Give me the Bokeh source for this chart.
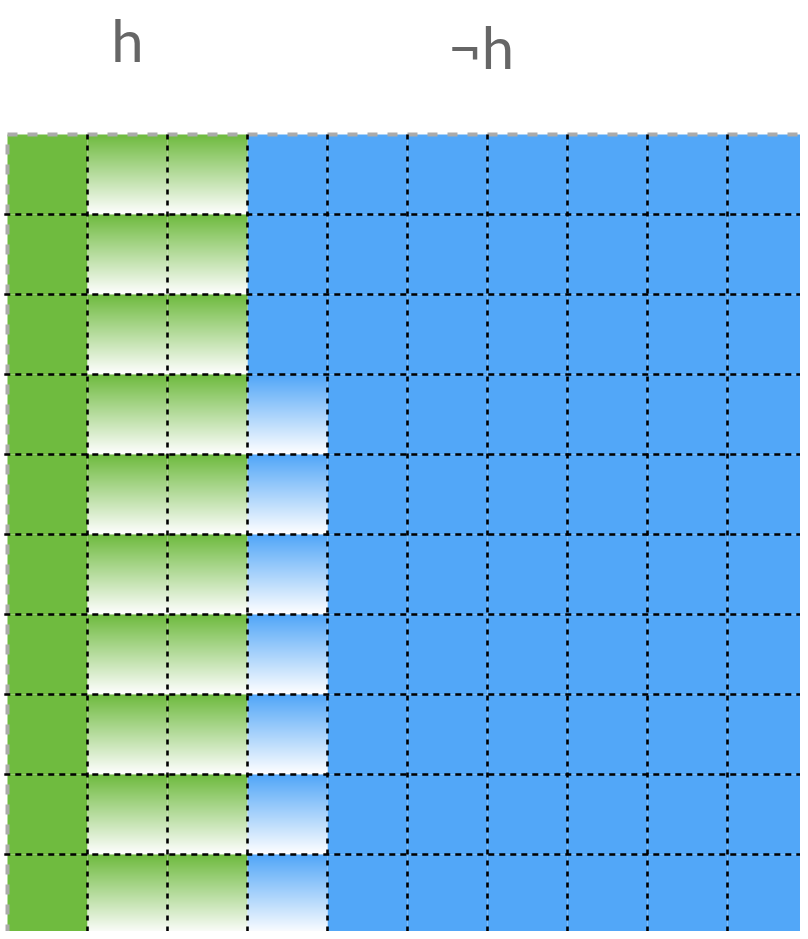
import numpy as np
from bokeh.plotting import figure
from bokeh.models import Range1d
from bokeh.core.properties import value
from bokeh.embed import file_html
from bokeh.resources import INLINE

# ---- data -------------------------------------------------------------
n_rows = 10
n_cols = 10
# one string per row (top to bottom): G = solid green, g = green fade,
# B = solid blue, b = blue fade
row_kinds = [
    "GggBBBBBBB",
    "GggBBBBBBB",
    "GggBBBBBBB",
    "GggbBBBBBB",
    "GggbBBBBBB",
    "GggbBBBBBB",
    "GggbBBBBBB",
    "GggbBBBBBB",
    "GggbBBBBBB",
    "GggbBBBBBB",
]
group_labels = ["h", "\u00ach"]
group_label_x = [1.5, 5.92]
group_label_y = [1.19, 1.10]

GREEN = "#6fbb3f"
BLUE = "#52a7f8"
kind_color = {"G": GREEN, "g": GREEN, "B": BLUE, "b": BLUE}

# ---- figure -----------------------------------------------------------
W, H = 800, 931
left_px, top_px, cell_px = 7, 134, 80
p = figure(width=W, height=H, output_backend="svg", toolbar_location=None,
           x_range=Range1d(-left_px / cell_px, (W - left_px) / cell_px),
           y_range=Range1d(-(H - top_px) / cell_px, top_px / cell_px),
           min_border=0)
p.axis.visible = False
p.grid.visible = False
p.outline_line_color = None
p.background_fill_color = "white"
p.border_fill_color = "white"

# solid cells
sl, sr, st, sb, sc = [], [], [], [], []
grad_cells = []
for r, kinds in enumerate(row_kinds):
    for c, k in enumerate(kinds):
        if k in "GB":
            sl.append(c); sr.append(c + 1); st.append(-r); sb.append(-r - 1)
            sc.append(kind_color[k])
        else:
            grad_cells.append((r, c, kind_color[k]))
p.quad(left=sl, right=sr, top=st, bottom=sb, fill_color=sc, line_color=None)


def hex_rgb(h):
    h = h.lstrip("#")
    return [int(h[i:i + 2], 16) for i in (0, 2, 4)]


N = 80
t = np.linspace(0.0, 1.0, N)  # 0 bottom (white) -> 1 top (color)
for r, c, col in grad_cells:
    rgb = hex_rgb(col)
    img = np.zeros((N, 1), dtype=np.uint32)
    view = img.view(dtype=np.uint8).reshape((N, 1, 4))
    for i in range(3):
        view[:, 0, i] = (255 + (rgb[i] - 255) * t).astype(np.uint8)
    view[:, 0, 3] = 255
    p.image_rgba(image=[img], x=c, y=-r - 1, dw=1, dh=1)

# outer grey dashed border
p.line(x=[0, n_cols, n_cols, 0, 0], y=[0, 0, -n_rows, -n_rows, 0],
       line_color="#aaaaaa", line_width=4, line_dash="10 10")

# inner black dashed grid lines
xs_v = [[c, c] for c in range(1, n_cols + 1)]
ys_v = [[0, -n_rows] for c in range(1, n_cols + 1)]
p.multi_line(xs=xs_v, ys=ys_v, line_color="black", line_width=2.6, line_dash="5 6")
xs_h = [[-0.04, n_cols] for r in range(1, n_rows + 1)]
ys_h = [[-r, -r] for r in range(1, n_rows + 1)]
p.multi_line(xs=xs_h, ys=ys_h, line_color="black", line_width=2.6, line_dash="6 5")

# group labels
p.text(x=group_label_x, y=group_label_y, text=group_labels,
       text_font=value("Lato"), text_font_size="58px",
       text_color="#666666", text_align="center", text_baseline="alphabetic")

open("out.html", "w").write(file_html(p, INLINE))
